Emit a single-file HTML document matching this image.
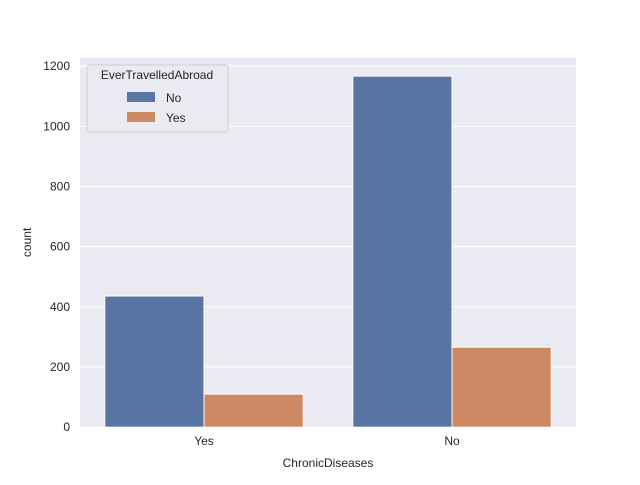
<!DOCTYPE html>
<html><head><meta charset="utf-8"><style>
body{margin:0;background:#fff;}
svg text{font-family:"Liberation Sans",Arial,sans-serif;fill:#262626;}
</style></head><body>
<svg id="chart" width="640" height="480"></svg>
<script>
const categories = ["Yes", "No"];
const hues = ["No", "Yes"];
const seriesNo = [436, 1167];
const seriesYes = [110, 266];
const yTicks = [0, 200, 400, 600, 800, 1000, 1200];

const NS = "http://www.w3.org/2000/svg";
const svg = document.getElementById("chart");
const L = 80, R = 576, T = 57.6, B = 427.2;
const yMax = 1228.5;
const colors = ["#5875a4", "#cc8963"];
function y(v){ return B - v / yMax * (B - T); }
function x(v){ return L + (v + 0.5) / 2 * (R - L); }
function mk(tag, attrs, parent){
  const e = document.createElementNS(NS, tag);
  for (const k in attrs) e.setAttribute(k, attrs[k]);
  (parent || svg).appendChild(e);
  return e;
}
const bg = mk("rect", {x:L, y:T, width:R-L, height:B-T, fill:"#eaeaf2"});


yTicks.forEach(t => {
  const g = mk("line", {x1:L, x2:R, y1:y(t), y2:y(t), stroke:"#fff", "stroke-width":1});
  
  
  const lb = mk("text", {x:L-10, y:y(t)+4, "text-anchor":"end", "font-size":12});
  lb.textContent = t;
  
  
});
const series = [seriesNo, seriesYes];
categories.forEach((c, i) => {
  series.forEach((s, h) => {
    const x0 = x(i - 0.4 + h * 0.4);
    const r = mk("rect", {x:x0, y:y(s[i]), width:x(0.4)-x(0), height:B-y(s[i]), fill:colors[h], stroke:"#fff", "stroke-width":1});
    
    
  });
  const lb = mk("text", {x:x(i), y:B+18, "text-anchor":"middle", "font-size":12});
  lb.textContent = c;
  
  
});
const xt = mk("text", {x:(L+R)/2, y:467, "text-anchor":"middle", "font-size":12});
xt.textContent = "ChronicDiseases";


const yt = mk("text", {x:0, y:0, "text-anchor":"middle", "font-size":12, transform:"translate(31,"+((T+B)/2)+") rotate(-90)"});
yt.textContent = "count";


const lg = mk("g", {});


mk("rect", {x:87, y:65, width:141, height:67, rx:3, fill:"#eaeaf2", stroke:"#cccccc", "stroke-width":1, opacity:0.9}, lg);
const lt = mk("text", {x:157, y:79, "text-anchor":"middle", "font-size":12}, lg);
lt.textContent = "EverTravelledAbroad";


hues.forEach((h, k) => {
  const sw = mk("rect", {x:127, y:92+k*20, width:28, height:10, fill:colors[k]}, lg);
  
  
  const t = mk("text", {x:166, y:102+k*20, "font-size":12}, lg);
  t.textContent = h;
  
  
});
</script>
</body></html>
